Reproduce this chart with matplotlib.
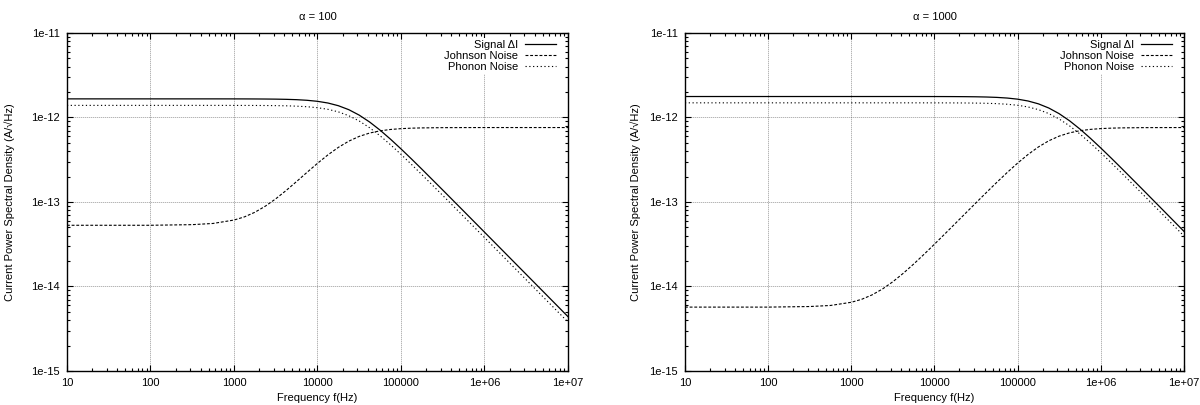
import numpy as np
import matplotlib.pyplot as plt
from matplotlib.ticker import FixedLocator, LogLocator, NullFormatter

plt.rcParams['font.family'] = ['Liberation Sans', 'DejaVu Sans']

# --- values ---
# alpha = 100 panel
freq_100 = [10, 100, 316, 562, 1000, 1334, 1778, 2371, 3162, 4217, 5623, 7499,
            1e4, 13335, 17783, 23714, 31623, 42170, 56234, 74989, 1e5, 133352,
            177828, 316228, 562341, 1e6, 3162278, 1e7]
sig_100 = [1.66e-12, 1.66e-12, 1.66e-12, 1.66e-12, 1.659e-12, 1.658e-12, 1.656e-12,
           1.653e-12, 1.648e-12, 1.639e-12, 1.624e-12, 1.597e-12, 1.553e-12,
           1.483e-12, 1.378e-12, 1.237e-12, 1.066e-12, 8.83e-13, 7.077e-13,
           5.531e-13, 4.252e-13, 3.236e-13, 2.447e-13, 1.386e-13, 7.815e-14,
           4.398e-14, 1.391e-14, 4.398e-15]
john_100 = [5.3e-14, 5.3e-14, 5.39e-14, 5.57e-14, 6.11e-14, 6.66e-14, 7.55e-14,
            8.91e-14, 1.089e-13, 1.368e-13, 1.746e-13, 2.242e-13, 2.865e-13,
            3.607e-13, 4.426e-13, 5.244e-13, 5.971e-13, 6.543e-13, 6.948e-13,
            7.212e-13, 7.374e-13, 7.471e-13, 7.526e-13, 7.576e-13, 7.593e-13,
            7.599e-13, 7.6e-13, 7.6e-13]
phon_100 = [1.39e-12, 1.39e-12, 1.39e-12, 1.39e-12, 1.389e-12, 1.388e-12, 1.387e-12,
            1.385e-12, 1.381e-12, 1.374e-12, 1.361e-12, 1.34e-12, 1.305e-12,
            1.249e-12, 1.165e-12, 1.049e-12, 9.084e-13, 7.554e-13, 6.07e-13,
            4.755e-13, 3.661e-13, 2.788e-13, 2.109e-13, 1.196e-13, 6.74e-14,
            3.795e-14, 1.2e-14, 3.795e-15]

# alpha = 1000 panel
freq_1000 = [10, 100, 316, 562, 1000, 1334, 1778, 2371, 3162, 4217, 5623, 7499,
             1e4, 13335, 17783, 23714, 31623, 42170, 56234, 74989, 1e5, 133352,
             177828, 237137, 316228, 421697, 562341, 749894, 1e6, 1333521,
             1778279, 3162278, 5623413, 1e7]
sig_1000 = [1.77e-12, 1.77e-12, 1.77e-12, 1.77e-12, 1.77e-12, 1.77e-12, 1.77e-12,
            1.77e-12, 1.77e-12, 1.77e-12, 1.77e-12, 1.769e-12, 1.7686e-12,
            1.7676e-12, 1.7657e-12, 1.7623e-12, 1.7564e-12, 1.7461e-12, 1.7282e-12,
            1.6975e-12, 1.647e-12, 1.5672e-12, 1.45e-12, 1.2939e-12, 1.1084e-12,
            9.133e-13, 7.286e-13, 5.678e-13, 4.357e-13, 3.312e-13, 2.503e-13,
            1.417e-13, 7.987e-14, 4.495e-14]
john_1000 = [5.7e-15, 5.7e-15, 5.79e-15, 5.96e-15, 6.5e-15, 7.05e-15, 7.95e-15,
             9.33e-15, 1.138e-14, 1.432e-14, 1.842e-14, 2.403e-14, 3.164e-14,
             4.186e-14, 5.554e-14, 7.374e-14, 9.785e-14, 1.2956e-13, 1.708e-13,
             2.233e-13, 2.883e-13, 3.645e-13, 4.476e-13, 5.297e-13, 6.017e-13,
             6.578e-13, 6.972e-13, 7.227e-13, 7.383e-13, 7.476e-13, 7.529e-13,
             7.578e-13, 7.593e-13, 7.599e-13]
phon_1000 = [1.49e-12, 1.49e-12, 1.49e-12, 1.49e-12, 1.49e-12, 1.49e-12, 1.49e-12,
             1.49e-12, 1.49e-12, 1.49e-12, 1.49e-12, 1.4894e-12, 1.489e-12,
             1.4881e-12, 1.4867e-12, 1.4841e-12, 1.4796e-12, 1.4716e-12, 1.4578e-12,
             1.4341e-12, 1.3947e-12, 1.332e-12, 1.2387e-12, 1.1122e-12, 9.591e-13,
             7.949e-13, 6.371e-13, 4.981e-13, 3.83e-13, 2.915e-13, 2.204e-13,
             1.249e-13, 7.041e-14, 3.962e-14]

titles = ['\u03b1 = 100', '\u03b1 = 1000']
xticks = [10, 100, 1000, 1e4, 1e5, 1e6, 1e7]
xticklabels = ['10', '100', '1000', '10000', '100000', '1e+06', '1e+07']
yticks = [1e-15, 1e-14, 1e-13, 1e-12, 1e-11]
yticklabels = ['1e-15', '1e-14', '1e-13', '1e-12', '1e-11']

fig = plt.figure(figsize=(12, 4.05), dpi=100)
ax1 = fig.add_axes([0.0558, 0.0840, 0.4175, 0.8346])
ax2 = fig.add_axes([0.5708, 0.0840, 0.4158, 0.8346])

panels = [(ax1, freq_100, sig_100, john_100, phon_100, titles[0], 12),
          (ax2, freq_1000, sig_1000, john_1000, phon_1000, titles[1], 6)]

for ax, freq, sig, john, phon, title, ypad in panels:
    ax.set_xscale('log')
    ax.set_yscale('log')
    ax.plot(freq, sig, color='black', lw=0.9, label='Signal \u0394I')
    ax.plot(freq, john, color='black', lw=0.8, dashes=(2.6, 1.6), label='Johnson Noise')
    ax.plot(freq, phon, color='black', lw=0.8, dashes=(1.1, 2.3), label='Phonon Noise')
    ax.set_xlim(10, 1e7)
    ax.set_ylim(1e-15, 1e-11)

    ax.xaxis.set_major_locator(FixedLocator(xticks))
    ax.set_xticklabels(xticklabels)
    ax.yaxis.set_major_locator(FixedLocator(yticks))
    ax.set_yticklabels(yticklabels)
    ax.xaxis.set_minor_locator(LogLocator(base=10, subs=np.arange(2, 10), numticks=20))
    ax.yaxis.set_minor_locator(LogLocator(base=10, subs=np.arange(2, 10), numticks=20))
    ax.xaxis.set_minor_formatter(NullFormatter())
    ax.yaxis.set_minor_formatter(NullFormatter())
    ax.tick_params(which='both', direction='in', top=True, right=True,
                   labelsize=8, width=0.8, pad=5)
    ax.tick_params(which='major', length=4)
    ax.tick_params(which='minor', length=2)

    ax.grid(True, which='major', color='#555555', lw=0.6, linestyle=(0, (0.8, 1.6)))
    ax.set_axisbelow(True)
    for sp in ax.spines.values():
        sp.set_linewidth(1.0)

    ax.set_title(title, fontsize=8, pad=9)
    ax.set_xlabel('Frequency f(Hz)', fontsize=8, labelpad=4)
    ax.set_ylabel('Current Power Spectral Density (A/\u221aHz)', fontsize=8, labelpad=ypad)

    leg = ax.legend(loc='upper right', bbox_to_anchor=(0.98, 0.985), fontsize=8,
                    markerfirst=False, frameon=True, fancybox=False, edgecolor='none',
                    facecolor='white', framealpha=1, handlelength=2.8,
                    handletextpad=0.6, labelspacing=0.1, borderpad=0.15,
                    borderaxespad=0)
    leg.get_frame().set_linewidth(0)

fig.savefig('out.png', dpi=100)
